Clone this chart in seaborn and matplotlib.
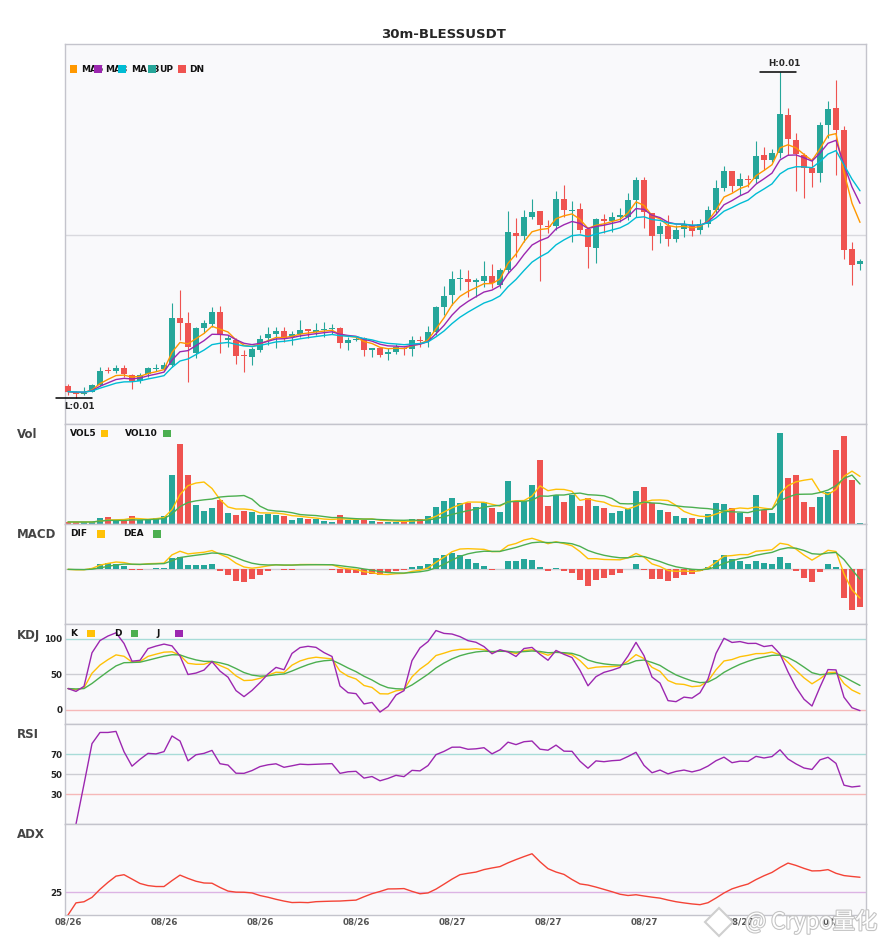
import numpy as np
import pandas as pd
import matplotlib
matplotlib.use("Agg")
import matplotlib.pyplot as plt
import matplotlib.patheffects as pe
from matplotlib.patches import Rectangle
from matplotlib.lines import Line2D
import seaborn as sns

# ---------------- data (prices in 1e-5 USDT, volume in K) ----------------
title = "30m-BLESSUSDT"
open_e5 = [
    1049, 1043, 1040.7, 1043.3, 1050, 1065, 1064.3, 1066.7, 1059.7, 1054,
    1060.7, 1066, 1066, 1070, 1117, 1112, 1081.7, 1107.3, 1111, 1123,
    1095, 1095, 1079.7, 1078.3, 1085, 1096.7, 1101.3, 1103.7, 1098.3, 1101,
    1106, 1103, 1105.3, 1106, 1107, 1092.3, 1095.3, 1096.7, 1085.3, 1087.3,
    1080.7, 1083.3, 1087.3, 1085.7, 1095, 1094, 1103.3, 1128.3, 1140, 1155.7,
    1156, 1153.3, 1154, 1159, 1150, 1165, 1201.7, 1199, 1218.3, 1224,
    1209.3, 1209.3, 1236, 1224.3, 1226, 1205.7, 1187.3, 1216, 1214, 1218,
    1218.3, 1235, 1255, 1222.3, 1200.7, 1209, 1196.3, 1205.7, 1209.3, 1205,
    1211, 1225, 1247.3, 1264, 1249, 1256, 1256, 1280, 1275, 1282.3,
    1320, 1295, 1280, 1267.3, 1262.3, 1310, 1327, 1305, 1186, 1171]
high_e5 = [
    1051, 1044, 1047.7, 1050.7, 1068.3, 1068.3, 1070, 1070, 1061, 1062.3,
    1068.3, 1071, 1073.3, 1131.7, 1145, 1123.3, 1108.3, 1115, 1127.7, 1129,
    1100, 1096.7, 1085, 1088.3, 1100, 1108, 1108.3, 1108.3, 1104, 1115,
    1106, 1111.7, 1113, 1110.7, 1108.3, 1098.3, 1098.3, 1098.3, 1087.3, 1088.3,
    1086.7, 1091, 1088.3, 1099.3, 1099.3, 1109.3, 1129, 1149, 1164, 1165.7,
    1165, 1156.7, 1174.3, 1171, 1166.7, 1224, 1216.7, 1225, 1236, 1224,
    1215, 1244, 1250.3, 1234, 1232.3, 1208.3, 1216.7, 1221, 1223.3, 1226.7,
    1241.7, 1258.3, 1258, 1222.3, 1213.3, 1220, 1210, 1215, 1215, 1215.7,
    1229, 1255, 1269, 1264, 1261.7, 1260, 1294, 1288.3, 1285.7, 1363.3,
    1326.7, 1301.7, 1281.7, 1276.7, 1313.3, 1334, 1355, 1309, 1193.3, 1176]
low_e5 = [
    1040, 1037.3, 1040, 1043, 1049, 1061.7, 1062, 1058.3, 1045.7, 1051.7,
    1058.3, 1064, 1065, 1068.3, 1095, 1053.3, 1076.7, 1101.7, 1108.3, 1081.7,
    1088.3, 1071, 1063.3, 1070, 1083.3, 1090, 1086.7, 1093.3, 1090, 1098.3,
    1096.7, 1100, 1098.3, 1101, 1086.7, 1085, 1094.3, 1079.3, 1078.3, 1078.3,
    1075, 1080.7, 1080, 1079.3, 1088.3, 1088.3, 1100, 1120, 1130, 1145,
    1137.7, 1137.7, 1148.3, 1146.7, 1146.7, 1161.7, 1177.7, 1193.3, 1216, 1154.3,
    1201.7, 1205, 1218.3, 1193.3, 1201.7, 1166.7, 1172.3, 1201.7, 1202.7, 1213.3,
    1215, 1218.3, 1206.7, 1185, 1192.3, 1189, 1193.3, 1198.3, 1199.3, 1200.7,
    1208.3, 1222.3, 1244.3, 1243.3, 1240, 1248.3, 1251.7, 1265, 1273.3, 1276.7,
    1280, 1244, 1237.3, 1248.3, 1253.3, 1296.7, 1260, 1176, 1150, 1165]
close_e5 = [
    1043.3, 1040.7, 1042.3, 1050, 1064, 1064, 1067, 1060.7, 1054, 1060,
    1067, 1066.7, 1069.7, 1117, 1112.3, 1088.3, 1106.7, 1111.7, 1123, 1100,
    1097.3, 1079.3, 1079, 1085.7, 1096, 1101, 1103.7, 1097.3, 1101, 1105,
    1104.3, 1105, 1105.7, 1106.3, 1092.3, 1095, 1095.7, 1085, 1087.3, 1080,
    1083.3, 1087.7, 1085.7, 1095, 1094.3, 1103, 1128.3, 1139, 1155.7, 1156,
    1153.3, 1155, 1159, 1151.7, 1165, 1203, 1199.3, 1218, 1223, 1210,
    1208.3, 1236, 1225, 1224.7, 1205, 1188.3, 1216, 1214, 1218, 1220,
    1235, 1255, 1222.7, 1199, 1209.3, 1196.3, 1205, 1210, 1204.3, 1211,
    1224.7, 1246.7, 1264, 1249, 1256, 1255.3, 1279, 1275, 1281.7, 1321,
    1296.3, 1281, 1267.3, 1262.3, 1310, 1326, 1305, 1185, 1170, 1174.3]
volume_k = [
    2, 2, 2, 2, 6.3, 7.3, 3.3, 3.3, 8.3, 4.3,
    4.3, 6.3, 8.3, 48.3, 79.3, 48.3, 19.3, 13.3, 16.3, 24.3,
    11.3, 9.3, 13.3, 12.3, 9.3, 10.3, 9.3, 8.3, 4.3, 6.3,
    5.3, 5.3, 3.3, 2.3, 9.3, 4.3, 4.3, 4.3, 3.3, 2.3,
    2.3, 2.3, 2.3, 5.3, 5.3, 8.3, 17.3, 23.3, 26.3, 21.3,
    20.7, 17.3, 22.3, 16.3, 12.3, 42.3, 22.3, 23.3, 38.3, 63.3,
    18.3, 29.3, 22.3, 29.3, 18.3, 26.3, 18.3, 16.3, 11.3, 13.3,
    15.3, 32.3, 36.3, 21.3, 14.3, 12.3, 8.3, 6.3, 6.3, 5.3,
    10.3, 21.3, 20.3, 16.3, 11.3, 7.3, 29.3, 14.3, 11.3, 90.3,
    45.3, 48.3, 22.3, 17.3, 27.3, 31.3, 73.3, 87.3, 43.3, 1.3]
x_tick_labels = ["08/26", "08/26", "08/26", "08/26", "08/27",
                 "08/27", "08/27", "08/27", "08/28"]
ma_spans = [5, 8, 13]
ma_names = ["MA5", "MA8", "MA13"]
watermark = "@ Crypo量化"

# ---------------- indicators ----------------
df = pd.DataFrame({
    "open": np.array(open_e5) * 1e-5, "high": np.array(high_e5) * 1e-5,
    "low": np.array(low_e5) * 1e-5, "close": np.array(close_e5) * 1e-5,
    "volume": np.array(volume_k) * 1e3})
n = len(df)
xs = np.arange(n)
c = df["close"]
for s in ma_spans:
    df[f"ma{s}"] = c.ewm(span=s, adjust=False).mean()
df["vol5"] = df["volume"].rolling(5, min_periods=1).mean()
df["vol10"] = df["volume"].rolling(10, min_periods=1).mean()
dif = c.ewm(span=6, adjust=False).mean() - c.ewm(span=13, adjust=False).mean()
dea = dif.ewm(span=5, adjust=False).mean()
hist = 2 * (dif - dea)
llv = df["low"].rolling(9, min_periods=1).min()
hhv = df["high"].rolling(9, min_periods=1).max()
rsv = (c - llv) / (hhv - llv) * 100
K = rsv.ewm(com=2, adjust=False).mean()
D = K.ewm(com=2, adjust=False).mean()
J = 3 * K - 2 * D
d = c.diff()
up = d.clip(lower=0)
dn = (-d).clip(lower=0)
upm = up.ewm(alpha=1 / 14).mean()
dnm = dn.ewm(alpha=1 / 14).mean()
rsi = 100 * upm / (upm + dnm)
pc = c.shift()
tr = pd.concat([df["high"] - df["low"], (df["high"] - pc).abs(),
                (df["low"] - pc).abs()], axis=1).max(axis=1)
um = df["high"].diff()
dm = -df["low"].diff()
pdm = pd.Series(np.where((um > dm) & (um > 0), um, 0.0))
mdm = pd.Series(np.where((dm > um) & (dm > 0), dm, 0.0))
atr = tr.ewm(span=14, adjust=False).mean()
pdi = 100 * pdm.ewm(span=14, adjust=False).mean() / atr
mdi = 100 * mdm.ewm(span=14, adjust=False).mean() / atr
dx = (100 * (pdi - mdi).abs() / (pdi + mdi)).fillna(0)
adx = dx.ewm(span=14, adjust=False).mean()

# ---------------- style ----------------
sns.set_style("white")
plt.rcParams["font.family"] = ["DejaVu Sans"]
UP, DN = "#26a69a", "#ef5350"
ORANGE, PURPLE, CYAN = "#ff9800", "#9c27b0", "#00bcd4"
AMBER, GREEN = "#ffc107", "#4caf50"
FACE, SPINE = "#f9f9fb", "#c4c4cc"

W, H = 885, 950
fig = plt.figure(figsize=(W / 100, H / 100), dpi=100)
fig.patch.set_facecolor("white")


def box(top, bottom):
    return [65 / W, 1 - bottom / H, 801 / W, (bottom - top) / H]


ax_main = fig.add_axes(box(44, 424))
ax_vol = fig.add_axes(box(424, 524))
ax_macd = fig.add_axes(box(524, 624))
ax_kdj = fig.add_axes(box(624, 724))
ax_rsi = fig.add_axes(box(724, 824))
ax_adx = fig.add_axes(box(824, 915))
axes = [ax_main, ax_vol, ax_macd, ax_kdj, ax_rsi, ax_adx]
for ax in axes:
    ax.set_facecolor(FACE)
    ax.set_xlim(-0.375, n - 0.25)
    for sp in ax.spines.values():
        sp.set_color(SPINE)
        sp.set_linewidth(1.0)
    ax.tick_params(axis="both", length=0, labelsize=6.3, pad=2)
    ax.set_xticks([])
    ax.set_yticks([])

colors = np.where(df["close"] >= df["open"], UP, DN)

# main candles
ax_main.vlines(xs, df["low"], df["high"], colors=colors, linewidth=0.8, zorder=2)
body_bot = np.minimum(df["open"], df["close"])
body_h = np.maximum((df["close"] - df["open"]).abs(), 1.1e-5)
ax_main.bar(xs, body_h, bottom=body_bot, width=0.74, color=colors, linewidth=0, zorder=3)
for s, col in zip(ma_spans, [ORANGE, PURPLE, CYAN]):
    sns.lineplot(x=xs, y=df[f"ma{s}"].values, ax=ax_main, color=col, linewidth=1.0,
                 legend=False, zorder=4)
lo, hi = df["low"].min(), df["high"].max()
rng = hi - lo
ax_main.set_ylim(lo - 0.081 * rng, hi + 0.085 * rng)
ax_main.set_yticks([0.012])
ax_main.set_yticklabels([])
ax_main.grid(axis="y", color="#d9d9de", linewidth=1.0)
ih, il = int(df["high"].idxmax()), int(df["low"].idxmin())
ax_main.plot([ih - 2.5, ih + 2], [hi, hi], color="black", lw=1.1, clip_on=False, zorder=5)
ax_main.annotate(f"H:{hi:.2f}", xy=(ih + 0.5, hi), xytext=(0, 2.5), textcoords="offset points",
                 ha="center", va="bottom", fontsize=6.3, fontweight="bold")
ax_main.plot([il - 2.5, il + 2], [lo, lo], color="black", lw=1.1, clip_on=False, zorder=5)
ax_main.annotate(f"L:{lo:.2f}", xy=(il + 0.5, lo), xytext=(0, -3.5), textcoords="offset points",
                 ha="center", va="top", fontsize=6.3, fontweight="bold", annotation_clip=False)

# volume
ax_vol.bar(xs, df["volume"], width=0.74, color=colors, linewidth=0, zorder=2)
sns.lineplot(x=xs, y=df["vol5"].values, ax=ax_vol, color=AMBER, linewidth=1.0, legend=False, zorder=3)
sns.lineplot(x=xs, y=df["vol10"].values, ax=ax_vol, color=GREEN, linewidth=1.0, legend=False, zorder=3)
ax_vol.set_ylim(0, df["volume"].max() * 1.1)

# macd
hcol = np.where(hist >= 0, UP, DN)
ax_macd.bar(xs, hist, width=0.74, color=hcol, linewidth=0, zorder=2)
ax_macd.axhline(0, color="#cfcfd4", lw=1.0, zorder=1)
sns.lineplot(x=xs, y=dif.values, ax=ax_macd, color=AMBER, linewidth=1.0, legend=False, zorder=3)
sns.lineplot(x=xs, y=dea.values, ax=ax_macd, color=GREEN, linewidth=1.0, legend=False, zorder=3)
mlo = min(dif.min(), dea.min(), hist.min())
mhi = max(dif.max(), dea.max(), hist.max())
mr = mhi - mlo
ax_macd.set_ylim(mlo - 0.2 * mr, mhi + 0.2 * mr)

# kdj
for v, col in [(100, "#a8dcd8"), (50, "#cdcdd3"), (0, "#f6b8b8")]:
    ax_kdj.axhline(v, color=col, lw=1.0, zorder=1)
sns.lineplot(x=xs, y=K.values, ax=ax_kdj, color=AMBER, linewidth=1.0, legend=False, zorder=3)
sns.lineplot(x=xs, y=D.values, ax=ax_kdj, color=GREEN, linewidth=1.0, legend=False, zorder=3)
sns.lineplot(x=xs, y=J.values, ax=ax_kdj, color=PURPLE, linewidth=1.0, legend=False, zorder=3)
ax_kdj.set_ylim(-20, 121)
ax_kdj.set_yticks([0, 50, 100])

# rsi
for v, col in [(70, "#a8dcd8"), (50, "#cdcdd3"), (30, "#f6b8b8")]:
    ax_rsi.axhline(v, color=col, lw=1.0, zorder=1)
sns.lineplot(x=xs, y=rsi.values, ax=ax_rsi, color=PURPLE, linewidth=1.0, legend=False, zorder=3)
ax_rsi.set_ylim(0, 100)
ax_rsi.set_yticks([30, 50, 70])

# adx
ax_adx.axhline(25, color="#dcb4e4", lw=1.0, zorder=1)
sns.lineplot(x=xs, y=adx.values, ax=ax_adx, color="#f44336", linewidth=1.0, legend=False, zorder=3)
ax_adx.set_ylim(0, 100)
ax_adx.set_yticks([25])
ax_adx.set_xticks(xs[::12])
ax_adx.set_xticklabels(x_tick_labels)

for ax in [ax_kdj, ax_rsi, ax_adx]:
    for t in ax.get_yticklabels():
        t.set_fontweight("bold")
        t.set_color("#222222")
for t in ax_adx.get_xticklabels():
    t.set_fontweight("bold")
    t.set_color("#555555")
for ax in axes:
    ax.set_xlabel("")
    ax.set_ylabel("")

# ---------------- texts & legends ----------------
fig.text(443 / W, 1 - 34 / H, title, ha="center", va="center", fontsize=9.5, fontweight="bold")
for lab, yy in [("Vol", 434.5), ("MACD", 534.5), ("KDJ", 635), ("RSI", 735), ("ADX", 835)]:
    fig.text(17 / W, 1 - yy / H, lab, ha="left", va="center", fontsize=8.5,
             fontweight="bold", color="#444444")


def square(x, yc, col):
    r = Rectangle((x / W, 1 - (yc + 3.7) / H), 7.4 / W, 7.4 / H, transform=fig.transFigure,
                  facecolor=col, edgecolor="none", zorder=6)
    fig.add_artist(r)


def label(x, yc, s):
    fig.text(x / W, 1 - yc / H, s, ha="left", va="center", fontsize=6.5,
             fontweight="bold", color="#111111", zorder=3)


main_leg = [(70, 81, ORANGE, ma_names[0]), (94.3, 105.3, PURPLE, ma_names[1]),
            (118.3, 131.3, CYAN, ma_names[2]), (148.3, 159.3, UP, "UP"), (178.3, 189, DN, "DN")]
for sx, tx, col, s in main_leg:
    label(tx, 69, s)
    square(sx, 69, col)
for tx, sx, col, s, yc in [(70, 101, AMBER, "VOL5", 433.3), (125, 163.3, GREEN, "VOL10", 433.3),
                           (70, 97.3, AMBER, "DIF", 534), (123.3, 153.3, GREEN, "DEA", 534),
                           (70, 87.3, AMBER, "K", 633.5), (113.7, 131, GREEN, "D", 633.5),
                           (156.7, 175.3, PURPLE, "J", 633.5)]:
    label(tx, yc, s)
    square(sx, yc, col)

# watermark (logo + text)
fig.add_artist(Line2D([719 / W], [1 - 922 / H], marker="D", markersize=14, color="none",
                      markerfacecolor="white", markeredgecolor="#cfcfcf", markeredgewidth=1.5,
                      transform=fig.transFigure, zorder=7))
fig.text(877 / W, 1 - 922 / H, watermark, ha="right", va="center", fontsize=16,
         color="white", family=["Noto Sans CJK SC", "DejaVu Sans"], zorder=8,
         path_effects=[pe.withStroke(linewidth=1.6, foreground="#c4c4c4")])

fig.savefig("out.png", dpi=100)
